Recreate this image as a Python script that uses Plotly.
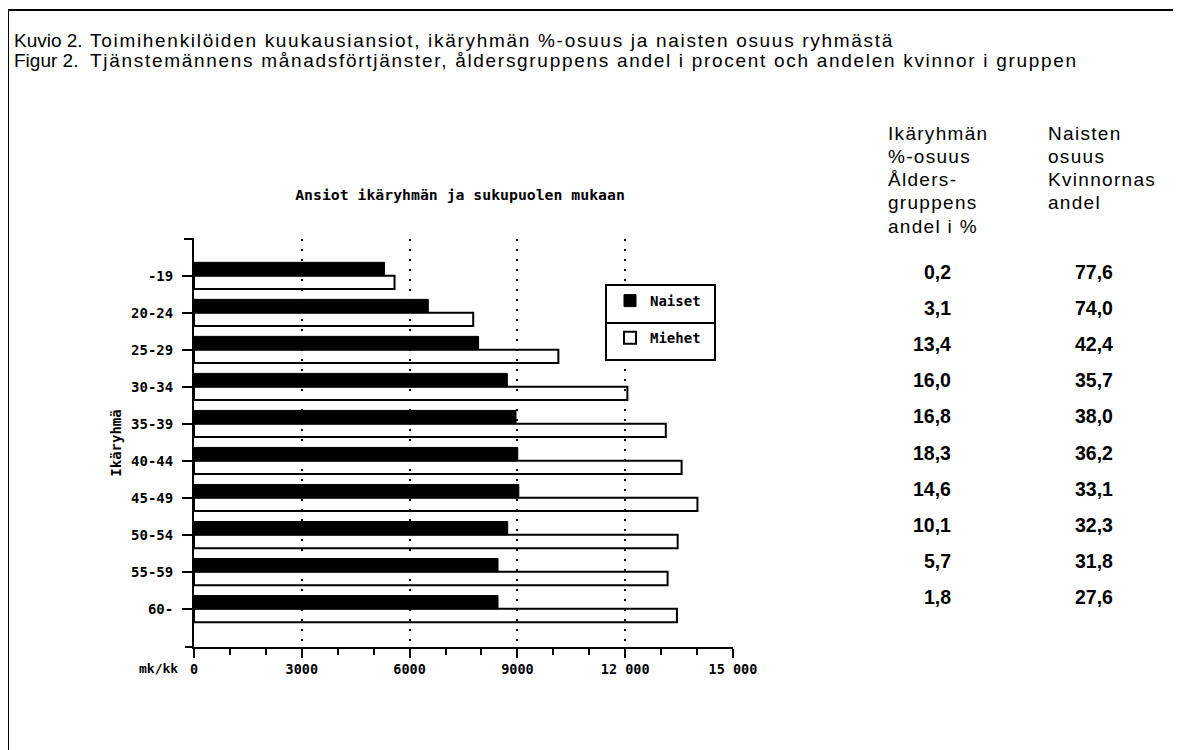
import plotly.graph_objects as go

# ---- data ----
age_groups = ["-19", "20-24", "25-29", "30-34", "35-39", "40-44", "45-49", "50-54", "55-59", "60-"]
naiset_mk = [5300, 6520, 7920, 8720, 8960, 9010, 9040, 8730, 8460, 8460]
miehet_mk = [5580, 7770, 10140, 12060, 13130, 13570, 14010, 13460, 13180, 13440]
ikaryhman_osuus = [0.2, 3.1, 13.4, 16.0, 16.8, 18.3, 14.6, 10.1, 5.7, 1.8]
naisten_osuus = [77.6, 74.0, 42.4, 35.7, 38.0, 36.2, 33.1, 32.3, 31.8, 27.6]
x_tick_vals = [0, 3000, 6000, 9000, 12000, 15000]
x_tick_text = ["0", "3000", "6000", "9000", "12 000", "15 000"]
header_col1 = ["Ikäryhmän", "%-osuus", "Ålders-", "gruppens", "andel i %"]
header_col2 = ["Naisten", "osuus", "Kvinnornas", "andel"]
title_fi = ["Kuvio 2.", "Toimihenkilöiden kuukausiansiot, ikäryhmän %-osuus ja naisten osuus ryhmästä"]
title_sv = ["Figur 2.", "Tjänstemännens månadsförtjänster, åldersgruppens andel i procent och andelen kvinnor i gruppen"]
chart_title = "Ansiot ikäryhmän ja sukupuolen mukaan"

# ---- geometry (page pixels; the page body adds an 8px offset) ----
OFF = 8
W, H = 1181 - OFF, 750 - OFF
L, R, T, B = 194, 733, 239, 647


def px(x):
    return (x - L) / (R - L)


def py(y):
    return (B - y) / (B - T)


MONO = "DejaVu Sans Mono, Liberation Mono, monospace"
SANS = "Liberation Sans, Arial, sans-serif"
mono_font = dict(family=MONO, size=14, color="black", weight="bold")


def spaced(txt, sp):
    return f'<span style="letter-spacing:{sp}px">{txt}</span>'


fig = go.Figure()
fig.add_trace(go.Bar(
    y=age_groups, x=naiset_mk, orientation="h", name="Naiset", legendgroup="n",
    marker=dict(color="black", line=dict(color="black", width=1)),
))
fig.add_trace(go.Bar(
    y=age_groups, x=miehet_mk, orientation="h", name="Miehet", legendgroup="m",
    marker=dict(color="rgba(255,255,255,0)", line=dict(color="black", width=2)),
))

annotations = []
# figure titles
for (lab, txt), yc in ((title_fi, 41), (title_sv, 60)):
    annotations.append(dict(text=lab, x=px(12), y=py(yc), xref="paper", yref="paper",
                            xanchor="left", yanchor="middle", showarrow=False,
                            font=dict(family=SANS, size=19, color="black")))
    annotations.append(dict(text=spaced(txt, 1.7), x=px(88), y=py(yc), xref="paper", yref="paper",
                            xanchor="left", yanchor="middle", showarrow=False,
                            font=dict(family=SANS, size=19, color="black")))

# table headers
for col_x, lines in ((886, header_col1), (1046, header_col2)):
    for i, line in enumerate(lines):
        annotations.append(dict(text=spaced(line, 1.3), x=px(col_x), y=py(133 + 23.3 * i),
                                xref="paper", yref="paper", xanchor="left", yanchor="middle",
                                showarrow=False, font=dict(family=SANS, size=19, color="black")))

# table values
for i, (a, b) in enumerate(zip(ikaryhman_osuus, naisten_osuus)):
    yc = py(272 + 36.1 * i)
    annotations.append(dict(text=f"{a:.1f}".replace(".", ","), x=px(953), y=yc, xref="paper", yref="paper",
                            xanchor="right", yanchor="middle", showarrow=False,
                            font=dict(family=SANS, size=19.5, color="black", weight="bold")))
    annotations.append(dict(text=f"{b:.1f}".replace(".", ","), x=px(1115), y=yc, xref="paper", yref="paper",
                            xanchor="right", yanchor="middle", showarrow=False,
                            font=dict(family=SANS, size=19.5, color="black", weight="bold")))

# unit label
annotations.append(dict(text="mk/kk", x=px(180), y=py(668), xref="paper", yref="paper",
                        xanchor="right", yanchor="middle", showarrow=False,
                        font=dict(family=MONO, size=13, color="black", weight="bold")))

shapes = [
    # outer frame
    dict(type="rect", xref="paper", yref="paper", x0=px(8), x1=px(1200), y0=py(770), y1=py(10),
         line=dict(color="black", width=2), fillcolor="rgba(0,0,0,0)", layer="below"),
    # small axis extensions
    dict(type="line", xref="paper", yref="paper", x0=px(184), x1=0, y0=1, y1=1,
         line=dict(color="black", width=2)),
    dict(type="line", xref="paper", yref="paper", x0=px(185), x1=0, y0=0, y1=0,
         line=dict(color="black", width=2)),
    # legend box (opaque, over the grid) and its separator
    dict(type="rect", xref="paper", yref="paper", x0=px(606), x1=px(715), y0=py(360), y1=py(285),
         line=dict(color="black", width=2), fillcolor="white", layer="above"),
    dict(type="line", xref="paper", yref="paper", x0=px(606), x1=px(715), y0=py(323), y1=py(323),
         line=dict(color="black", width=2), layer="above"),
]

fig.update_layout(
    width=W, height=H, autosize=False,
    margin=dict(l=L - OFF, r=1181 - R, t=T - OFF, b=750 - B, pad=0),
    paper_bgcolor="white", plot_bgcolor="white",
    barmode="group", bargap=0.28, bargroupgap=0,
    title=dict(text=chart_title, x=px(460), xref="paper", xanchor="center",
               y=1 - (195 - OFF) / H, yref="container", yanchor="middle",
               font=dict(family=MONO, size=14.8, color="black", weight="bold")),
    legend=dict(x=px(610), y=py(285), xanchor="left", yanchor="top",
                borderwidth=0, bgcolor="rgba(0,0,0,0)",
                font=mono_font, traceorder="grouped", tracegroupgap=16),
    xaxis=dict(range=[0, 15000], tickmode="array", tickvals=x_tick_vals, ticktext=x_tick_text,
               showline=True, linecolor="black", linewidth=2,
               ticks="outside", ticklen=9, tickwidth=2, tickcolor="black",
               showgrid=True, gridcolor="black", gridwidth=2, griddash="2px,8px",
               zeroline=False, tickfont=dict(family=MONO, size=13.5, color="black", weight="bold"),
               minor=dict(tickmode="linear", tick0=0, dtick=1000, ticks="outside", ticklen=6,
                          tickwidth=2, tickcolor="black", showgrid=False)),
    yaxis=dict(type="category", categoryorder="array", categoryarray=age_groups,
               range=[10.03, -0.99], showline=True, linecolor="black", linewidth=2,
               ticks="outside", ticklen=10, tickwidth=2, tickcolor="black",
               showgrid=False, zeroline=False, tickfont=mono_font, ticklabelstandoff=6,
               title=dict(text="Ikäryhmä", font=mono_font, standoff=6)),
    annotations=annotations,
    shapes=shapes,
)

fig.write_html("out.html")
